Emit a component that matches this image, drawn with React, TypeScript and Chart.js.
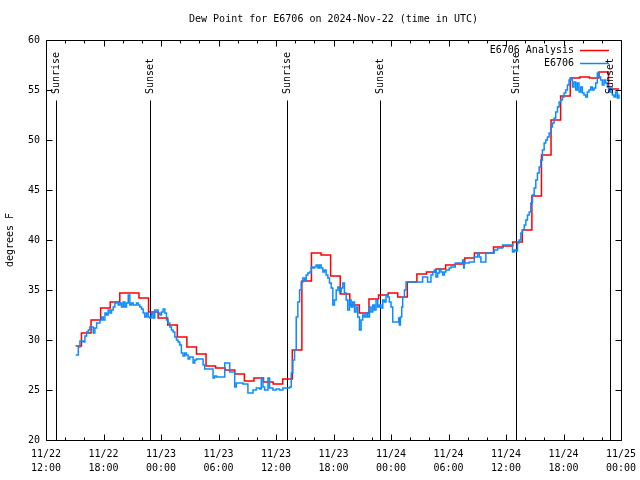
import React, { useEffect, useRef } from 'react';
import { Chart, registerables } from 'chart.js';

Chart.register(...registerables);

const FONT_FAMILY = "'DejaVu Sans Mono', monospace";
const TITLE = 'Dew Point for E6706 on 2024-Nov-22 (time in UTC)';
const Y_LABEL = 'degrees F';
const SERIES_ANALYSIS = 'E6706 Analysis';
const SERIES_OBS = 'E6706';

// x axis: hours since 2024-11-22 12:00 UTC
const X_MIN = 0;
const X_MAX = 60;
const X_TICK_LABELS = [
  ['11/22', '12:00'],
  ['11/22', '18:00'],
  ['11/23', '00:00'],
  ['11/23', '06:00'],
  ['11/23', '12:00'],
  ['11/23', '18:00'],
  ['11/24', '00:00'],
  ['11/24', '06:00'],
  ['11/24', '12:00'],
  ['11/24', '18:00'],
  ['11/25', '00:00'],
];
const Y_MIN = 20;
const Y_MAX = 60;
const Y_STEP = 5;

const sunEventLabels = ['Sunrise', 'Sunset', 'Sunrise', 'Sunset', 'Sunrise', 'Sunset'];
const sunEventHours = [1.05, 10.85, 25.1, 34.85, 49.0, 58.8];
const SUN_LINE_TOP = 54;

const analysisHours = [
  3.1, 3.7, 4.7, 5.7, 6.7, 7.7, 8.7, 9.7, 10.7, 11.7, 12.7, 13.7, 14.7, 15.7, 16.7,
  17.7, 18.7, 19.7, 20.7, 21.7, 22.7, 23.7, 24.7, 25.7, 26.7, 27.7, 28.7, 29.7,
  30.7, 31.7, 32.7, 33.7, 34.7, 35.7, 36.7, 37.7, 38.7, 39.7, 40.7, 41.7, 42.7,
  43.7, 44.7, 45.7, 46.7, 47.7, 48.7, 49.7, 50.7, 51.7, 52.7, 53.7, 54.7, 55.7,
  56.7, 57.7, 58.7,
];
const analysisValues = [
  29.4, 30.7, 32.0, 33.2, 33.8, 34.7, 34.7, 34.2, 32.8, 32.2, 31.5, 30.3, 29.3, 28.6, 27.4,
  27.2, 27.0, 26.6, 25.9, 26.2, 25.8, 25.6, 26.1, 29.0, 35.9, 38.7, 38.5, 36.4,
  34.6, 33.5, 32.7, 34.1, 34.5, 34.7, 34.3, 35.8, 36.6, 36.8, 37.1, 37.5, 37.6,
  38.2, 38.7, 38.7, 39.3, 39.4, 39.8, 41.0, 44.4, 48.5, 52.0, 54.4, 56.2, 56.3,
  56.2, 56.8, 55.1,
];
const ANALYSIS_END = 59.8;

const obsHours = [
  3.1, 3.37, 3.54, 3.89, 4.06, 4.24, 4.41, 4.58, 4.93, 5.1, 5.28, 5.63, 5.8, 5.97,
  6.15, 6.32, 6.49, 6.67, 6.84, 7.01, 7.19, 7.36, 7.53, 7.71, 7.88, 8.06, 8.23,
  8.4, 8.58, 8.75, 8.92, 9.1, 9.44, 9.62, 9.79, 9.97, 10.14, 10.31, 10.49, 10.66,
  10.83, 11.01, 11.18, 11.35, 11.7, 11.88, 12.05, 12.22, 12.4, 12.57, 12.74, 12.92,
  13.09, 13.26, 13.44, 13.61, 13.78, 13.96, 14.13, 14.3, 14.48, 14.65, 14.83, 15.0,
  15.35, 15.52, 15.69, 16.39, 16.56, 17.43, 17.6, 17.8, 18.65, 19.17, 19.69, 19.86,
  20.55, 21.07, 21.6, 21.94, 22.29, 22.46, 22.64, 22.81, 23.16, 23.33, 23.68, 24.03,
  24.37, 24.72, 25.42, 25.59, 25.76, 25.94, 26.11, 26.28, 26.46, 26.63, 26.8, 26.98,
  27.15, 27.32, 27.5, 27.67, 27.85, 28.02, 28.19, 28.37, 28.54, 28.71, 28.89, 29.06,
  29.23, 29.41, 29.58, 29.76, 29.93, 30.1, 30.28, 30.45, 30.62, 30.8, 30.97, 31.14,
  31.32, 31.49, 31.67, 31.84, 32.01, 32.19, 32.36, 32.53, 32.71, 32.88, 33.05, 33.23,
  33.4, 33.57, 33.75, 33.92, 34.1, 34.27, 34.44, 34.62, 34.79, 34.96, 35.14, 35.31,
  35.48, 35.66, 35.83, 36.0, 36.18, 36.8, 36.87, 36.98, 37.12, 37.22, 37.4, 37.57,
  39.3, 39.82, 40.17, 40.35, 40.52, 40.69, 40.87, 41.04, 41.21, 41.39, 41.56, 41.73,
  42.08, 42.26, 42.71, 43.47, 43.58, 43.64, 44.17, 44.69, 45.03, 45.21, 45.38, 45.9,
  46.77, 47.12, 47.64, 48.68, 48.85, 49.03, 49.2, 49.37, 49.55, 49.72, 49.9, 50.07,
  50.24, 50.42, 50.59, 50.76, 50.94, 51.11, 51.28, 51.46, 51.63, 51.8, 51.98, 52.15,
  52.32, 52.5, 52.67, 52.85, 53.02, 53.19, 53.37, 53.54, 53.71, 53.89, 54.06, 54.23,
  54.41, 54.58, 54.76, 54.93, 55.1, 55.28, 55.45, 55.62, 55.8, 55.97, 56.14, 56.32,
  56.49, 56.66, 56.84, 57.01, 57.19, 57.36, 57.53, 57.71, 57.88, 58.05, 58.23, 58.4,
  58.57, 58.75, 58.92, 59.1, 59.27, 59.44, 59.62, 59.79,
];
const obsValues = [
  28.5, 29.3, 29.9, 29.8, 30.4, 30.8, 31.0, 31.3, 30.7, 31.2, 31.7, 32.0, 32.3, 32.0,
  32.7, 32.5, 33.0, 32.7, 33.0, 33.3, 33.7, 33.8, 33.5, 33.7, 33.3, 33.8, 33.3,
  33.7, 34.5, 33.5, 33.7, 33.5, 33.7, 33.5, 33.3, 33.1, 32.7, 32.3, 32.7, 32.3,
  32.2, 32.7, 32.2, 33.0, 32.7, 32.5, 32.8, 33.1, 32.7, 32.0, 31.7, 31.3,
  31.0, 30.8, 30.3, 30.0, 29.8, 29.5, 28.7, 28.4, 28.7, 28.5, 28.1, 28.3,
  27.7, 28.0, 28.1, 27.5, 27.1, 26.2, 26.4, 26.3, 27.7, 26.8, 25.3, 25.7,
  25.6, 24.7, 25.0, 25.2, 25.1, 26.2, 25.3, 25.0, 26.2, 25.2, 25.0, 25.1,
  25.0, 25.2, 25.3, 26.7, 28.0, 29.0, 32.3, 33.8, 35.0, 35.8, 36.2, 36.0,
  36.5, 36.7, 36.8, 37.3, 37.2, 37.3, 37.5, 37.2, 37.5, 37.2, 36.8, 37.0,
  36.5, 36.2, 35.7, 35.2, 33.5, 34.0, 35.0, 35.3, 34.8, 35.2, 35.7, 34.7,
  34.0, 33.0, 34.0, 33.3, 33.8, 32.8, 33.3, 32.3, 31.0, 32.0, 32.5, 32.3,
  32.7, 32.3, 33.3, 32.8, 33.5, 33.0, 34.0, 33.3, 33.5, 33.2, 34.0, 33.8,
  34.5, 34.3, 33.8, 33.3, 31.8, 32.2, 31.5, 32.3, 33.3, 34.3, 35.0, 35.8,
  36.3, 35.8, 36.5, 36.8, 37.0, 36.3, 36.7, 37.1, 36.8, 36.5, 36.8, 37.0,
  37.2, 37.3, 37.7, 38.0, 37.2, 37.7, 37.8, 38.3, 38.7, 38.3, 37.8, 38.7,
  39.0, 39.2, 39.5, 38.8, 39.0, 38.9, 39.7, 40.0, 40.7, 41.0, 41.5, 42.0,
  42.5, 42.8, 43.7, 44.5, 45.2, 46.0, 46.7, 47.3, 48.0, 49.0, 49.7, 50.0,
  50.3, 50.7, 51.3, 51.7, 52.2, 52.8, 53.3, 53.8, 54.0, 54.3, 54.7, 55.0,
  55.5, 56.0, 56.2, 55.3, 55.8, 55.0, 55.7, 54.8, 55.3, 54.7, 54.5, 54.3,
  54.8, 55.0, 55.3, 55.0, 55.2, 55.7, 56.7, 56.3, 56.0, 55.5, 56.0, 55.7,
  55.3, 54.8, 55.2, 54.5, 54.3, 54.8, 54.2, 54.5,
];
const OBS_END = 59.85;

const RED = '#ff0000';
const BLUE = '#0a8cff';

const crisp = (v: number) => Math.round(v) + 0.5;

const gnuplotFrame = {
  id: 'gnuplotFrame',
  beforeDatasetsDraw(chart: any) {
    const { ctx, chartArea } = chart;
    const xs = chart.scales.x;
    const ys = chart.scales.y;
    ctx.save();
    ctx.strokeStyle = '#000';
    ctx.lineWidth = 1;
    const yTop = crisp(ys.getPixelForValue(SUN_LINE_TOP));
    sunEventHours.forEach((h) => {
      const px = crisp(xs.getPixelForValue(h));
      ctx.beginPath();
      ctx.moveTo(px, yTop);
      ctx.lineTo(px, chartArea.bottom);
      ctx.stroke();
    });
    ctx.restore();
  },
  afterDatasetsDraw(chart: any) {
    const { ctx, chartArea } = chart;
    const xs = chart.scales.x;
    const ys = chart.scales.y;
    const L = crisp(chartArea.left);
    const R = crisp(chartArea.right);
    const T = crisp(chartArea.top);
    const B = crisp(chartArea.bottom);
    ctx.save();
    ctx.strokeStyle = '#000';
    ctx.lineWidth = 1;
    ctx.beginPath();
    ctx.rect(L, T, R - L, B - T);
    ctx.stroke();

    // x ticks (inward, mirrored)
    ctx.beginPath();
    for (let h = X_MIN; h <= X_MAX; h += 2) {
      const px = crisp(xs.getPixelForValue(h));
      const len = h % 6 === 0 ? 6 : 3;
      ctx.moveTo(px, B);
      ctx.lineTo(px, B - len);
      ctx.moveTo(px, T);
      ctx.lineTo(px, T + len);
    }
    // y ticks
    for (let v = Y_MIN; v <= Y_MAX; v += Y_STEP) {
      const py = crisp(ys.getPixelForValue(v));
      ctx.moveTo(L, py);
      ctx.lineTo(L + 6, py);
      ctx.moveTo(R, py);
      ctx.lineTo(R - 6, py);
    }
    ctx.stroke();

    ctx.fillStyle = '#000';
    ctx.font = `10px ${FONT_FAMILY}`;

    // sunrise / sunset labels
    const yTop = ys.getPixelForValue(SUN_LINE_TOP);
    sunEventHours.forEach((h, i) => {
      const px = crisp(xs.getPixelForValue(h));
      ctx.save();
      ctx.translate(px, yTop - 6);
      ctx.rotate(-Math.PI / 2);
      ctx.textAlign = 'left';
      ctx.textBaseline = 'middle';
      ctx.fillText(sunEventLabels[i], 0, 0);
      ctx.restore();
    });

    // title
    ctx.textAlign = 'center';
    ctx.textBaseline = 'middle';
    ctx.fillText(TITLE, (chartArea.left + chartArea.right) / 2, 19);

    // legend
    const legendTextX = chartArea.right - 47;
    const sampleX0 = chartArea.right - 41;
    const sampleX1 = chartArea.right - 12;
    const rows = [
      { label: SERIES_ANALYSIS, color: RED, y: 50 },
      { label: SERIES_OBS, color: BLUE, y: 63 },
    ];
    ctx.textAlign = 'right';
    rows.forEach((r) => {
      ctx.fillStyle = '#000';
      ctx.fillText(r.label, legendTextX, r.y);
      ctx.strokeStyle = r.color;
      ctx.lineWidth = 1.5;
      ctx.beginPath();
      ctx.moveTo(sampleX0, r.y + 0.5);
      ctx.lineTo(sampleX1, r.y + 0.5);
      ctx.stroke();
    });
    ctx.restore();
  },
};

export default function App() {
  const canvasRef = useRef<HTMLCanvasElement | null>(null);

  useEffect(() => {
    document.body.style.margin = '0';
    const canvas = canvasRef.current;
    if (!canvas) return;

    const analysisData = analysisHours.map((h, i) => ({ x: h, y: analysisValues[i] }));
    analysisData.push({ x: ANALYSIS_END, y: analysisValues[analysisValues.length - 1] });
    const obsData = obsHours.map((h, i) => ({ x: h, y: obsValues[i] }));
    obsData.push({ x: OBS_END, y: obsValues[obsValues.length - 1] });

    const font = { family: FONT_FAMILY, size: 10 };

    const chart = new Chart(canvas, {
      type: 'line',
      data: {
        datasets: [
          {
            label: SERIES_ANALYSIS,
            data: analysisData,
            borderColor: RED,
            borderWidth: 1.5,
            pointRadius: 0,
            stepped: 'before',
            fill: false,
            order: 1,
          },
          {
            label: SERIES_OBS,
            data: obsData,
            borderColor: BLUE,
            borderWidth: 1.5,
            pointRadius: 0,
            stepped: 'before',
            fill: false,
            order: 0,
          },
        ],
      },
      options: {
        responsive: false,
        animation: false,
        devicePixelRatio: 1,
        layout: { padding: { left: 0, top: 40, right: 19, bottom: 0 } },
        plugins: {
          legend: { display: false },
          title: { display: false },
          tooltip: { enabled: false },
        },
        scales: {
          x: {
            type: 'linear',
            min: X_MIN,
            max: X_MAX,
            grid: { display: false, drawTicks: false },
            border: { display: false },
            ticks: {
              stepSize: 2,
              autoSkip: false,
              maxRotation: 0,
              minRotation: 0,
              padding: 7,
              color: '#000',
              font: { family: FONT_FAMILY, size: 10, lineHeight: 1.4 },
              callback: (v: any) => {
                const n = Math.round(Number(v));
                if (n % 6 !== 0) return '';
                return X_TICK_LABELS[n / 6];
              },
            },
            afterFit: (s: any) => {
              s.height = 40;
              s.paddingLeft = 0;
              s.paddingRight = 0;
            },
          },
          y: {
            type: 'linear',
            min: Y_MIN,
            max: Y_MAX,
            grid: { display: false, drawTicks: false },
            border: { display: false },
            ticks: { stepSize: Y_STEP, padding: 6, color: '#000', font },
            title: {
              display: true,
              text: Y_LABEL,
              color: '#000',
              font,
              padding: { top: 4, bottom: 4 },
            },
            afterFit: (s: any) => {
              s.width = 46;
              s.paddingTop = 0;
              s.paddingBottom = 0;
            },
          },
        },
      },
      plugins: [gnuplotFrame],
    } as any);

    return () => chart.destroy();
  }, []);

  return (
    <div style={{ width: 640, height: 480 }}>
      <canvas ref={canvasRef} width={640} height={480} style={{ display: 'block' }} />
    </div>
  );
}
